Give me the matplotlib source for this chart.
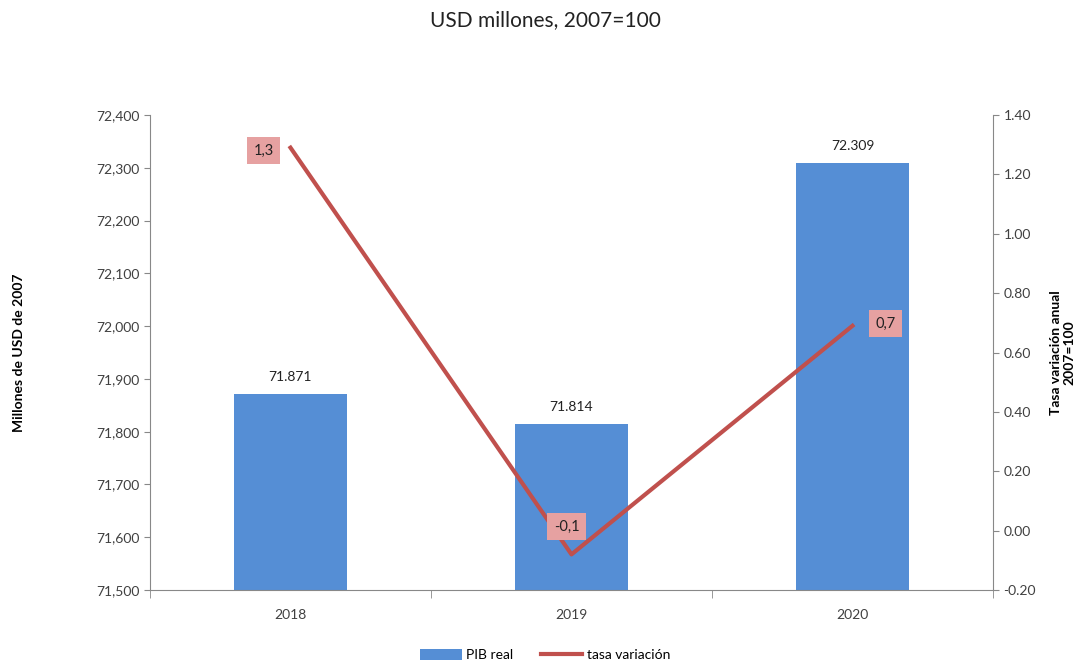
import matplotlib
matplotlib.use("Agg")
import matplotlib.pyplot as plt
import numpy as np

plt.rcParams['font.family'] = ['Lato', 'DejaVu Sans']

years = ['2018', '2019', '2020']
pib_real = [71871, 71814, 72309]
pib_labels = ['71.871', '71.814', '72.309']
tasa = [1.29, -0.08, 0.69]
tasa_labels = ['1,3', '-0,1', '0,7']

bar_color = '#558ED5'
line_color = '#C0504D'
box_color = '#E6A1A1'
text_gray = '#404040'

fig = plt.figure(figsize=(10.9, 6.64), dpi=100)
ax = fig.add_axes([0.1376, 0.1114, 0.7734, 0.7154])
x = np.arange(len(years))

bars = ax.bar(x, pib_real, width=0.4, color=bar_color, label='PIB real', zorder=2)
ax.set_ylim(71500, 72400)
ax.set_yticks(np.arange(71500, 72401, 100))
ax.set_yticklabels([f"{v:,}" for v in range(71500, 72401, 100)])
ax.set_xlim(-0.5, 2.5)
ax.set_xticks(x)
ax.set_xticklabels(years)
ax.set_xticks([-0.5, 0.5, 1.5, 2.5], minor=True)
for xi, v, lab in zip(x, pib_real, pib_labels):
    ax.annotate(lab, (xi, v), xytext=(0, 8), textcoords='offset points',
                ha='center', va='bottom', fontsize=10, color='#222222')

ax.set_ylabel('Millones de USD de 2007', fontsize=10, fontweight='bold', labelpad=51)

ax2 = ax.twinx()
ln, = ax2.plot(x, tasa, color=line_color, lw=3, label='tasa variación', zorder=3)
ax2.set_ylim(-0.2, 1.4)
ax2.set_yticks(np.arange(-0.2, 1.41, 0.2))
ax2.set_yticklabels([f"{v:.2f}" for v in np.arange(-0.2, 1.41, 0.2)])
offsets = [(-27, -3), (-5, 28), (33, 2)]
for xi, v, lab, off in zip(x, tasa, tasa_labels, offsets):
    ax2.annotate(lab, (xi, v), xytext=off, textcoords='offset pixels',
                 ha='center', va='center', fontsize=10.5, color='#222222',
                 bbox=dict(boxstyle='square,pad=0.45', fc=box_color, ec='none'))

ax2.set_ylabel('Tasa variación anual\n2007=100', fontsize=10, fontweight='bold', labelpad=10)

for a in (ax, ax2):
    a.spines['top'].set_visible(False)
    a.tick_params(colors='#888888', labelcolor=text_gray, labelsize=10, length=4)
ax.spines['right'].set_visible(False)
ax2.spines['left'].set_visible(False)
ax2.spines['bottom'].set_visible(False)
for s in ['left', 'bottom']:
    ax.spines[s].set_color('#888888')
ax2.spines['right'].set_color('#888888')
ax.tick_params(axis='x', which='major', length=0, pad=14)
ax.tick_params(axis='x', which='minor', length=6, colors='#888888')

fig.suptitle('USD millones, 2007=100', fontsize=15, y=0.985, color='#222222')

fig.legend([bars, ln], ['PIB real', 'tasa variación'], loc='lower center',
           bbox_to_anchor=(0.5, -0.015), ncol=2, frameon=False, fontsize=10,
           handlelength=3, handleheight=0.8, handletextpad=0.3, columnspacing=2)

fig.savefig('out.png', dpi=100)
